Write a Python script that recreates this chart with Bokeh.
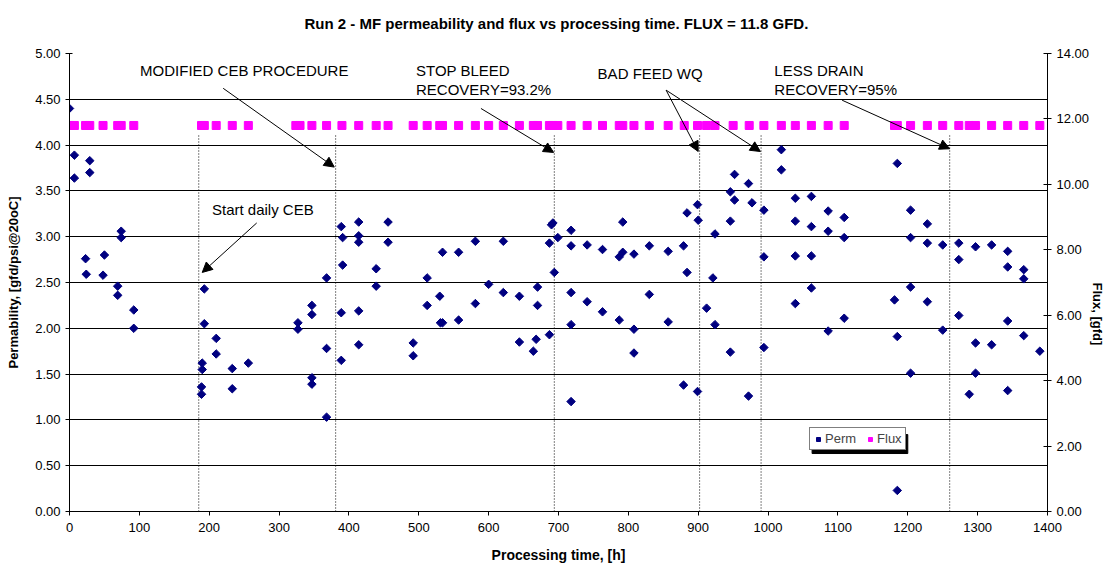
import math
from bokeh.plotting import figure
from bokeh.models import (Range1d, LinearAxis, FixedTicker, PrintfTickFormatter,
                          Label, Arrow, NormalHead)
from bokeh.embed import file_html
from bokeh.resources import INLINE

# ---------------- data ----------------
perm_time = [0, 7, 7, 23, 24, 29, 29, 48, 50, 69, 69, 74, 74, 92, 92,
             189, 189, 190, 190, 193, 193, 210, 210, 233, 233, 256,
             327, 327, 347, 347, 347, 347, 368, 368, 368,
             389, 389, 389, 391, 391, 414, 414, 414, 414, 414,
             439, 439, 456, 456, 492, 492, 512, 512, 530, 531, 534, 534,
             557, 557, 581, 581, 600, 621, 621, 644, 644,
             664, 668, 670, 670, 687, 687, 690, 692, 694, 699,
             718, 718, 718, 718, 718, 741, 741, 763, 763, 787, 787, 792, 792,
             808, 808, 808, 830, 830, 857, 857, 879, 879, 884, 884,
             899, 900, 899, 912, 921, 924, 924, 946, 946, 946, 952, 952,
             972, 972, 977, 994, 994, 994, 1019, 1019,
             1039, 1039, 1039, 1039, 1062, 1062, 1062, 1062,
             1086, 1086, 1086, 1109, 1109, 1109,
             1181, 1185, 1185, 1185, 1204, 1204, 1204, 1204,
             1228, 1228, 1228, 1250, 1250, 1273, 1273, 1273, 1288,
             1297, 1297, 1297, 1320, 1320, 1343, 1343, 1343, 1343,
             1366, 1366, 1366, 1389]
perm_value = [4.40, 3.89, 3.64, 2.76, 2.59, 3.83, 3.70, 2.58, 2.80, 2.46, 2.36, 3.06, 2.99, 2.20, 2.00,
              1.36, 1.28, 1.62, 1.55, 2.43, 2.05, 1.89, 1.72, 1.56, 1.34, 1.62,
              2.06, 1.99, 2.25, 2.15, 1.46, 1.39, 2.55, 1.78, 1.03,
              3.11, 2.17, 1.65, 2.99, 2.69, 3.16, 3.01, 2.94, 2.19, 1.82,
              2.65, 2.46, 3.16, 2.94, 1.84, 1.70, 2.55, 2.25, 2.35, 2.06, 2.83, 2.06,
              2.83, 2.09, 2.95, 2.27, 2.48, 2.95, 2.39, 2.35, 1.85,
              1.75, 1.88, 2.45, 2.25, 2.93, 1.93, 3.13, 3.15, 2.61, 2.99,
              3.07, 2.90, 2.39, 2.04, 1.20, 2.91, 2.29, 2.86, 2.18, 2.78, 2.09, 2.83, 3.16,
              2.81, 1.99, 1.73, 2.90, 2.37, 2.84, 2.07, 2.90, 1.38, 3.26, 2.61,
              3.35, 3.18, 1.31, 2.22, 2.55, 3.03, 2.04, 3.49, 3.17, 1.74, 3.68, 3.40,
              3.58, 1.26, 3.37, 3.29, 2.78, 1.79, 3.95, 3.73,
              3.42, 3.17, 2.79, 2.27, 3.44, 3.11, 2.79, 2.44,
              3.28, 3.06, 1.97, 3.21, 2.99, 2.11,
              2.31, 3.80, 1.91, 0.23, 3.29, 2.99, 2.45, 1.51,
              3.14, 2.93, 2.29, 2.91, 1.98, 2.93, 2.75, 2.14, 1.28,
              2.89, 1.84, 1.51, 2.91, 1.82, 2.84, 2.67, 2.08, 1.32,
              2.64, 2.54, 1.92, 1.75]

flux_time = [0, 7, 23, 29, 48, 69, 74, 92, 189, 193, 210, 233, 256,
             324, 330, 347, 368, 390, 414, 439, 456, 492, 512, 530, 534,
             557, 581, 600, 621, 644, 664, 670, 687, 692, 699, 718, 741,
             763, 787, 792, 808, 830, 857, 880, 899, 912, 924, 950, 973,
             994, 1019, 1039, 1062, 1086, 1109, 1181, 1185, 1204, 1228,
             1250, 1273, 1288, 1297, 1320, 1343, 1366, 1389]
flux_value = [11.8, 11.8, 11.8, 11.8, 11.8, 11.8, 11.8, 11.8, 11.8, 11.8,
              11.8, 11.8, 11.8, 11.8, 11.8, 11.8, 11.8, 11.8, 11.8, 11.8,
              11.8, 11.8, 11.8, 11.8, 11.8, 11.8, 11.8, 11.8, 11.8, 11.8,
              11.8, 11.8, 11.8, 11.8, 11.8, 11.8, 11.8, 11.8, 11.8, 11.8,
              11.8, 11.8, 11.8, 11.8, 11.8, 11.8, 11.8, 11.8, 11.8, 11.8,
              11.8, 11.8, 11.8, 11.8, 11.8, 11.8, 11.8, 11.8, 11.8, 11.8,
              11.8, 11.8, 11.8, 11.8, 11.8, 11.8, 11.8]

event_time = [185, 381, 694, 902, 990, 1260]
event_top = [4.12, 4.12, 4.12, 4.12, 4.12, 4.12]

x_ticks = [0, 100, 200, 300, 400, 500, 600, 700, 800, 900, 1000, 1100, 1200, 1300, 1400]
perm_ticks = [0.0, 0.5, 1.0, 1.5, 2.0, 2.5, 3.0, 3.5, 4.0, 4.5, 5.0]
flux_ticks = [0, 2, 4, 6, 8, 10, 12, 14]

title_text = "Run 2 - MF  permeability and flux vs processing time. FLUX = 11.8 GFD."
FONT = "Liberation Sans"

# ---------------- figure ----------------
p = figure(width=1115, height=565, output_backend="svg", toolbar_location=None,
           x_range=Range1d(0, 1400), y_range=Range1d(0, 5),
           min_border_left=69, min_border_right=66, min_border_top=53, min_border_bottom=54)
p.outline_line_color = None
p.background_fill_color = "white"
p.border_fill_color = "white"

# trailing blank line lifts the title away from the plot area
p.title.text = title_text + "\n"
p.title.align = "center"
p.title.text_font = FONT
p.title.text_font_size = "15px"
p.title.text_font_style = "bold"
p.title.text_color = "black"
p.title.offset = -6

p.extra_y_ranges = {"flux": Range1d(0, 14)}

# grid
p.xgrid.visible = False
p.ygrid.ticker = FixedTicker(ticks=perm_ticks)
p.ygrid.grid_line_color = "#000000"
p.ygrid.grid_line_width = 1

# axes
xa = p.xaxis[0]
xa.ticker = FixedTicker(ticks=x_ticks)
xa.axis_label = "Processing time, [h]"
ya = p.yaxis[0]
ya.ticker = FixedTicker(ticks=perm_ticks)
ya.formatter = PrintfTickFormatter(format="%.2f")
ya.axis_label = "Permability, [gfd/psi@20oC]"

ra = LinearAxis(y_range_name="flux", ticker=FixedTicker(ticks=flux_ticks),
                formatter=PrintfTickFormatter(format="%.2f"), axis_label="Flux, [gfd]")
p.add_layout(ra, "right")

for ax in (xa, ya, ra):
    ax.axis_line_color = "black"
    ax.axis_line_width = 1
    ax.major_tick_line_color = "black"
    ax.minor_tick_line_color = None
    ax.major_tick_out = 4
    ax.major_tick_in = 0
    ax.major_label_text_font = FONT
    ax.major_label_text_font_size = "13px"
    ax.major_label_text_color = "black"
    ax.axis_label_text_font = FONT
    ax.axis_label_text_font_size = "13px"
    ax.axis_label_text_font_style = "bold"
    ax.axis_label_text_color = "black"
ya.major_tick_in = 3
ra.major_tick_in = 4
xa.axis_label_text_font_size = "14px"
xa.major_label_standoff = 7
xa.axis_label_standoff = 12
ya.major_label_standoff = 5
ya.axis_label_standoff = 11
ra.major_label_standoff = 5
ra.axis_label_standoff = 5
try:
    ra.axis_label_orientation = -math.pi / 2
except Exception:
    pass

# event lines
p.segment(x0=event_time, y0=[0] * len(event_time), x1=event_time, y1=event_top,
          line_color="black", line_width=1, line_dash="1 2")

# data
p.scatter(perm_time, perm_value, marker="square", angle=math.pi / 4, size=6,
          fill_color="#000080", line_color="#000080", legend_label="Perm")
p.scatter(flux_time, flux_value, marker="square", size=8, y_range_name="flux",
          fill_color="#FF00FF", line_color="#FF00FF", legend_label="Flux")

# legend shadow
p.quad(left=[1063], right=[1200], bottom=[0.633], top=[0.84],
       fill_color="black", line_color="black")

# legend
lg = p.legend[0]
lg.orientation = "horizontal"
lg.location = (740, 61)
lg.label_text_font = FONT
lg.label_text_font_size = "13px"
lg.label_standoff = 2
lg.glyph_width = 10
lg.glyph_height = 10
lg.spacing = 9
lg.padding = 3
lg.margin = 0
lg.border_line_color = "black"
lg.border_line_width = 1
lg.background_fill_color = "white"
lg.background_fill_alpha = 1
lg.label_height = 13

# texts
def txt(x, y, s, size="15px"):
    lab = Label(x=x, y=y, text=s, text_font=FONT, text_font_size=size,
                text_color="black", text_baseline="middle", text_align="left")
    p.add_layout(lab)

txt(101, 4.81, "MODIFIED CEB PROCEDURE")
txt(204, 3.30, "Start  daily CEB")
txt(496, 4.81, "STOP BLEED")
txt(496, 4.61, "RECOVERY=93.2%")
txt(756, 4.78, "BAD FEED WQ")
txt(1009, 4.81, "LESS DRAIN")
txt(1009, 4.61, "RECOVERY=95%")

def arrow(x0, y0, x1, y1):
    p.add_layout(Arrow(end=NormalHead(size=10, fill_color="black", line_color="black", line_width=1),
                       x_start=x0, y_start=y0, x_end=x1, y_end=y1,
                       line_color="black", line_width=1))

arrow(268, 3.15, 190, 2.61)
arrow(220, 4.62, 379, 3.76)
arrow(589, 4.40, 693, 3.92)
arrow(854, 4.60, 900, 3.93)
arrow(854, 4.60, 989, 3.93)
arrow(1106, 4.49, 1260, 3.96)

open("out.html", "w").write(file_html(p, INLINE))
